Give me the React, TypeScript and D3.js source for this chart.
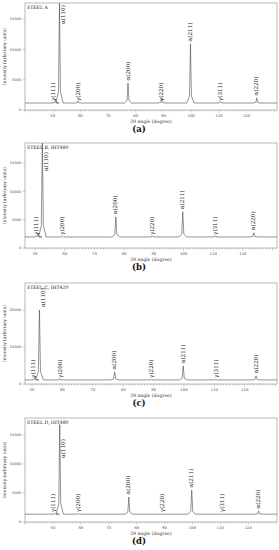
import React, { useEffect, useRef } from "react";
import * as d3 from "d3";

// peak labels and 2θ positions (Co Kα), shared by all four samples
const peakNames = ["γ(111)", "α(110)", "γ(200)", "α(200)", "γ(220)", "α(211)", "γ(311)", "α(220)"];
const peakAngles = [51.0, 52.45, 59.2, 77.2, 89.4, 99.75, 110.6, 123.7];

// peak intensities (arbitrary units)
const steelA = [1700, 17600, 1500, 4450, 1900, 10900, 1400, 2000];
const steelB = [2600, 18550, 2100, 5500, 2100, 6400, 2100, 2700];
const steelC = [1900, 20000, 1400, 3250, 1200, 4900, 1200, 2200];
const steelD = [1500, 16800, 1450, 4300, 1350, 5500, 1400, 1900];

// background level of each pattern
const baselines = [1150, 1950, 1100, 1350];

const titles = ["STEEL A", "STEEL B, IHT480", "STEEL C, IHT420", "STEEL D, IHT480"];
const captions = ["(a)", "(b)", "(c)", "(d)"];

const xTicks = [50, 60, 70, 80, 90, 100, 110, 120];
const yTicksA = [0, 5000, 10000, 15000];
const yTicksC = [0, 10000, 20000];

export default function App() {
  const ref = useRef<SVGSVGElement>(null);

  useEffect(() => {
    const svg = d3.select(ref.current);
    svg.selectAll("*").remove();

    const series = [steelA, steelB, steelC, steelD];
    const layouts = [
      { top: 3, bottom: 110, x0: 40, x1: 131, yMax: 17650, yTicks: yTicksA },
      { top: 143, bottom: 248, x0: 46.6, x1: 131.5, yMax: 18550, yTicks: yTicksA },
      { top: 283, bottom: 384, x0: 47.7, x1: 130.6, yMax: 27300, yTicks: yTicksC },
      { top: 418, bottom: 522, x0: 40, x1: 130.3, yMax: 17930, yTicks: yTicksA },
    ];
    const left = 25, right = 277;
    const font = "'DejaVu Serif', 'Liberation Serif', serif";

    layouts.forEach((L, p) => {
      const g = svg.append("g");
      const x = d3.scaleLinear().domain([L.x0, L.x1]).range([left, right]);
      const y = d3.scaleLinear().domain([0, L.yMax]).range([L.bottom, L.top]);
      const base = baselines[p];

      // frame
      g.append("rect")
        .attr("x", left).attr("y", L.top)
        .attr("width", right - left).attr("height", L.bottom - L.top)
        .attr("fill", "none").attr("stroke", "#9a9a9a").attr("stroke-width", 0.7);

      // x axis ticks
      const minor = d3.range(Math.ceil(L.x0), Math.floor(L.x1) + 1);
      g.selectAll(".mt").data(minor).enter().append("line")
        .attr("x1", d => x(d)).attr("x2", d => x(d))
        .attr("y1", L.bottom).attr("y2", d => L.bottom + (d % 10 === 0 ? 2.5 : 1.3))
        .attr("stroke", "#777").attr("stroke-width", 0.4);
      g.selectAll(".xl").data(xTicks).enter().append("text")
        .attr("x", d => x(d)).attr("y", L.bottom + 7)
        .attr("text-anchor", "middle").attr("font-size", 3.8).attr("fill", "#444")
        .attr("font-family", font).text(d => d);
      g.append("text")
        .attr("x", 151).attr("y", L.bottom + 12.5)
        .attr("text-anchor", "middle").attr("font-size", 4.6).attr("fill", "#333")
        .attr("font-family", font).text("2θ angle (degree)");

      // y axis
      g.selectAll(".yt").data(L.yTicks).enter().append("line")
        .attr("x1", left - 2.5).attr("x2", left)
        .attr("y1", d => y(d)).attr("y2", d => y(d))
        .attr("stroke", "#777").attr("stroke-width", 0.4);
      g.selectAll(".yl").data(L.yTicks).enter().append("text")
        .attr("x", left - 4).attr("y", d => y(d) + 1.3)
        .attr("text-anchor", "end").attr("font-size", 3.6).attr("fill", "#444")
        .attr("font-family", font).text(d => d);
      const midY = (L.top + L.bottom) / 2;
      g.append("text")
        .attr("transform", `translate(6,${midY}) rotate(-90)`)
        .attr("text-anchor", "middle").attr("font-size", 4.4).attr("fill", "#333")
        .attr("font-family", font).text("Intensity (arbitrary units)");

      // diffraction profile: each peak as a narrow spike with a small foot
      const pts: [number, number][] = [[L.x0, base]];
      peakAngles.forEach((a, i) => {
        const h = series[p][i];
        const foot = base + (h - base) * 0.12;
        pts.push([a - 1.3, base], [a - 0.35, foot], [a, h], [a + 0.35, foot], [a + 1.3, base]);
      });
      pts.push([L.x1, base]);
      const line = d3.line<[number, number]>().x(d => x(d[0])).y(d => y(d[1]));
      g.append("path").attr("d", line(pts)!)
        .attr("fill", "none").attr("stroke", "#4a4a4a").attr("stroke-width", 0.6);

      // peak labels, rotated
      peakNames.forEach((name, i) => {
        const a = peakAngles[i];
        const h = series[p][i];
        let lx = x(a) + 1.6;
        let ly = y(h) - 2.5;
        if (name === "α(110)") {
          lx = x(a) + 5.5;
          ly = L.top + 21 + (p === 1 ? 7 : 0) + (p === 2 ? 3 : 0) + (p === 3 ? 19 : 0);
        } else if (name.startsWith("γ")) {
          ly = y(base) - 2;
          if (i === 0) lx = x(a) - 0.5;
        }
        g.append("text")
          .attr("transform", `translate(${lx},${ly}) rotate(-90)`)
          .attr("font-size", 5.6).attr("fill", "#222")
          .attr("font-family", font).text(name);
      });

      // panel title
      g.append("text")
        .attr("x", left + 2).attr("y", L.top + 5.5)
        .attr("font-size", 4.6).attr("fill", "#222")
        .attr("font-family", font).text(titles[p]);

      // caption
      g.append("text")
        .attr("x", 139).attr("y", L.bottom + 21.5)
        .attr("text-anchor", "middle").attr("font-size", 8.5).attr("font-weight", "bold")
        .attr("fill", "#111").attr("font-family", font).text(captions[p]);
    });
  }, []);

  return (
    <svg ref={ref} width={279} height={550}
      style={{ position: "absolute", left: 0, top: 0, background: "#fff" }} />
  );
}
